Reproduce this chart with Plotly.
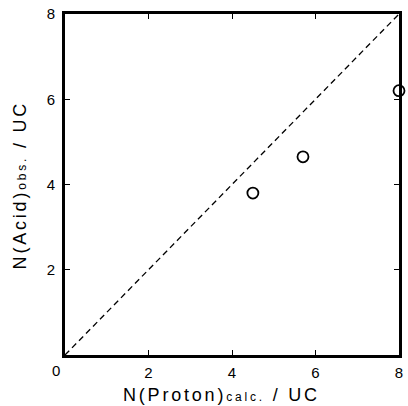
import plotly.graph_objects as go

# Data
x_calc = [4.5, 5.7, 8.0]
y_obs = [3.8, 4.65, 6.2]
ref_x = [0, 8]
ref_y = [0, 8]
x_ticks = [2, 4, 6, 8]
y_ticks = [2, 4, 6, 8]

FONT = "Liberation Sans, Arial, Helvetica, sans-serif"

fig = go.Figure()
fig.add_trace(go.Scatter(x=ref_x, y=ref_y, mode="lines",
                         line=dict(color="black", width=1.3, dash="6px,4px"),
                         hoverinfo="skip", showlegend=False))
fig.add_trace(go.Scatter(x=x_calc, y=y_obs, mode="markers",
                         marker=dict(symbol="circle-open", size=11,
                                     color="black", line=dict(width=1.8, color="black")),
                         cliponaxis=False, showlegend=False))

axis_common = dict(showline=True, linewidth=2.6, linecolor="black", mirror="ticks",
                   ticks="inside", ticklen=5, tickwidth=1, tickcolor="black",
                   showgrid=False, zeroline=False,
                   tickfont=dict(family=FONT, size=15, color="black"))
fig.update_xaxes(range=[0, 8], tickvals=x_ticks, ticktext=[str(v) for v in x_ticks],
                 ticklabelstandoff=2, **axis_common)
fig.update_yaxes(range=[0, 8], tickvals=y_ticks, ticktext=[str(v) for v in y_ticks],
                 ticklabelstandoff=4, **axis_common)

fig.add_annotation(x=0, y=0, xref="x", yref="y", text="0", showarrow=False,
                   xshift=-9, yshift=-15, font=dict(family=FONT, size=15, color="black"))
fig.add_annotation(x=0.47, y=-0.118, xref="paper", yref="paper", yanchor="middle",
                   text="<span style='letter-spacing:2.8px'>N(Proton)<span style='font-size:12px'>calc.</span> / UC</span>",
                   showarrow=False, font=dict(family=FONT, size=18, color="black"))
fig.add_annotation(x=-0.135, y=0.5, xref="paper", yref="paper", xanchor="center",
                   text="<span style='letter-spacing:2.8px'>N(Acid)<span style='font-size:12px'>obs.</span> / UC</span>",
                   textangle=-90, showarrow=False, font=dict(family=FONT, size=18, color="black"))

fig.update_layout(width=408, height=406, margin=dict(l=65, r=5, t=14, b=51),
                  paper_bgcolor="white", plot_bgcolor="white")
fig.write_html("out.html")
